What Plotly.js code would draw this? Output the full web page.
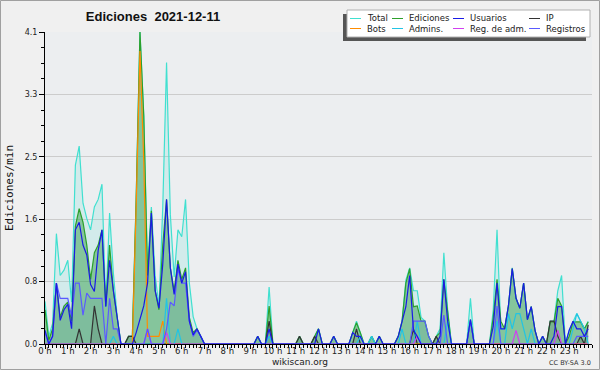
<!DOCTYPE html>
<html><head><meta charset="utf-8">
<script src="https://cdn.plot.ly/plotly-3.0.1.min.js"></script>
<style>html,body{margin:0;padding:0;background:#f0f0f0}#chart{width:600px;height:370px}</style>
</head><body><div id="chart"></div>
<script>
// 10-minute bins over 24 h
const hourLabels = ['0 h','1 h','2 h','3 h','4 h','5 h','6 h','7 h','8 h','9 h','10 h','11 h','12 h','13 h','14 h','15 h','16 h','17 h','18 h','19 h','20 h','21 h','22 h','23 h'];
const yTickVals = [0, 0.82, 1.64, 2.46, 3.28, 4.1];
const yTickText = ['0.0','0.8','1.6','2.5','3.3','4.1'];
const seriesNames = ['Total','Ediciones','Usuarios','IP','Bots','Admins.','Reg. de adm.','Registros'];

const total = [
0.56,0.10,0.27,1.45,0.90,0.97,1.10,0.55,2.35,2.60,1.85,1.65,
1.50,1.80,1.90,2.10,0.49,1.72,0.93,0.36,0,0,0.10,0.10,
1.90,4.10,3.00,1.00,1.80,0.90,0.50,1.80,3.70,1.70,0.88,1.50,
1.41,1.90,0.80,0.36,0.20,0.10,0,0,0,0,0,0,
0,0,0,0,0,0,0,0,0.10,0,0,0.75,
0,0,0,0,0,0,0,0.10,0,0,0,0.10,
0.20,0,0,0,0.10,0,0,0,0,0.15,0.30,0.15,
0,0,0.10,0,0.10,0,0,0,0,0.10,0.30,0.84,
1.00,0.70,0.70,0.35,0.30,0.10,0,0.10,0.20,1.20,0.45,0,
0,0,0,0,0.60,0,0,0,0,0,0.45,1.50,
0.20,0.20,0.50,1.00,0.60,0.47,0.80,0.32,0.49,0.18,0,0.10,
0,0.30,0.30,0.70,0.90,0,0.18,0.30,0.40,0.30,0.20,0.30];

const ediciones = [
0.45,0.05,0.20,0.80,0.35,0.50,0.55,0.30,1.55,1.78,1.60,1.30,
0.85,1.20,1.30,1.50,0.50,1.30,0.70,0.35,0,0,0.10,0.10,
1.90,4.10,3.00,0.90,1.75,0.70,0.45,1.30,1.90,1.00,0.70,1.10,
0.85,1.00,0.35,0.15,0.20,0.10,0,0,0,0,0,0,
0,0,0,0,0,0,0,0,0.10,0,0,0.50,
0,0,0,0,0,0,0,0.10,0,0,0,0.10,
0.20,0,0,0,0.10,0,0,0,0,0.15,0.28,0.15,
0,0,0.10,0,0.10,0,0,0,0,0.10,0.30,0.80,
0.99,0.49,0.50,0.30,0.30,0.10,0,0.10,0.15,0.85,0.38,0,
0,0,0,0,0.32,0,0,0,0,0,0.35,0.85,
0.30,0.20,0.50,0.99,0.60,0.47,0.80,0.32,0.49,0.18,0,0.10,
0,0.29,0.29,0.60,0.50,0,0.10,0.29,0.29,0.29,0.20,0.29];

const usuarios = [
0.18,0,0.10,0.80,0.31,0.45,0.52,0.20,1.50,1.60,1.30,1.17,
0.78,0.69,1.23,1.50,0.49,1.10,0.70,0.32,0,0,0,0,
0.15,0.32,0.50,0.80,1.72,0.70,0.47,1.05,1.90,1.00,0.65,1.05,
0.80,0.95,0.30,0.12,0.20,0.10,0,0,0,0,0,0,
0,0,0,0,0,0,0,0,0.10,0,0,0.20,
0,0,0,0,0,0,0,0,0,0,0,0,
0.20,0,0,0,0.10,0,0,0,0,0.15,0.10,0.10,
0,0,0,0,0.10,0,0,0,0,0.10,0.30,0.49,
0.90,0.18,0.10,0,0,0,0,0,0.10,0.85,0.30,0,
0,0,0,0,0.32,0,0,0,0,0,0.23,0.80,
0.20,0.20,0.50,0.99,0.60,0.47,0.80,0.32,0.49,0.18,0,0.10,
0,0,0.10,0.49,0.49,0,0.18,0.30,0.20,0.20,0.10,0.20];

const ip = [
0,0,0,0,0,0,0,0,0,0.20,0,0,
0,0.50,0.20,0,0,0,0,0,0,0,0.10,0.10,
0,0,0,0,0,0,0,0,0,0,0,0,
0,0,0,0,0,0,0,0,0,0,0,0,
0,0,0,0,0,0,0,0,0,0,0,0.30,
0,0,0,0,0,0,0,0.10,0,0,0,0.10,
0,0,0,0,0,0,0,0,0,0,0.20,0,
0,0,0,0,0,0,0,0,0,0,0,0,
0,0.20,0,0,0,0,0,0.10,0,0,0,0,
0,0,0,0,0,0,0,0,0,0,0,0,
0,0,0,0,0,0,0,0,0,0,0,0,
0,0.30,0.30,0.10,0,0,0,0,0,0.10,0,0.25];

const bots = [
0,0,0,0,0,0,0,0,0,0,0,0,
0,0,0,0,0,0,0,0,0,0,0,0,
1.80,3.85,2.40,0.10,0.10,0.10,0.10,0.30,0,0,0,0,
0,0,0,0,0,0,0,0,0,0,0,0,
0,0,0,0,0,0,0,0,0,0,0,0,
0,0,0,0,0,0,0,0,0,0,0,0,
0,0,0,0,0,0,0,0,0,0,0,0,
0,0,0,0,0,0,0,0,0,0,0,0,
0,0,0,0,0,0,0,0,0,0,0,0,
0,0,0,0,0,0,0,0,0,0,0,0,
0,0,0,0,0,0,0,0,0,0,0,0,
0,0,0,0,0,0,0,0,0,0,0,0];

const admins = [
0,0,0,0,0,0,0,0,0,0,0,0,
0,0,0,0,0,0,0.10,0,0,0,0,0,
0,0,0,0,0,0,0,0,0.60,0,0,0.20,
0,0,0,0,0,0,0,0,0,0,0,0,
0,0,0,0,0,0,0,0,0,0,0,0.10,
0,0,0,0,0,0,0,0,0,0,0,0,
0,0,0,0,0,0,0,0,0,0,0,0.10,
0,0,0.10,0,0,0,0,0,0,0,0.20,0,
0,0,0.30,0,0,0,0,0,0,0,0.30,0,
0,0,0,0,0,0,0,0,0,0,0,0.30,
0,0,0.40,0.20,0.40,0.40,0.20,0,0.20,0,0,0,
0,0,0,0,0,0,0,0.20,0.40,0.30,0.20,0];

const regAdm = [
0,0,0,0,0,0,0,0,0,0,0,0,
0,0,0,0,0,0,0,0,0,0,0,0,
0,0,0,0.20,0,0,0,0,0.15,0,0,0,
0,0,0,0,0,0,0,0,0,0,0,0,
0,0,0,0,0,0,0,0,0,0,0,0,
0,0,0,0,0,0,0,0,0,0,0,0,
0,0,0,0,0,0,0,0,0,0,0,0,
0,0,0,0,0,0,0,0,0,0,0,0,
0,0,0.10,0,0,0,0,0,0,0,0,0,
0,0,0,0,0,0,0,0,0,0,0,0,
0,0,0,0,0.18,0,0,0,0,0,0,0,
0,0,0,0.18,0,0,0,0,0,0,0,0];

const registros = [
0.15,0,0.10,0.80,0.60,0.60,0.60,0.36,0.80,0.80,0.38,0.67,
0.60,0.60,0.60,0.60,0,0.60,0.20,0.20,0,0,0,0,
0,0,0,0.20,0,0,0,0,0.20,0.55,0.50,0.99,
0.80,0.80,0.30,0.10,0.18,0.10,0,0,0,0,0,0,
0,0,0,0,0,0,0,0,0,0,0,0,
0,0,0,0,0,0,0,0,0,0,0,0,
0,0,0,0,0,0,0,0,0,0,0,0,
0,0,0,0,0,0,0,0,0,0,0,0,
0,0.30,0.30,0.30,0.30,0.10,0,0,0,0.38,0,0,
0,0,0,0,0.30,0,0,0,0,0,0,0.50,
0,0,0,0,0,0,0,0,0,0,0,0,
0,0,0,0,0,0,0,0,0.10,0.10,0.10,0.10];

const times = total.map((_, i) => i / 6);

const lineColors = ['#40e0d0','#2ca02c','#1a1ae6','#333333','#ff8c00','#22c4e4','#d040f0','#5a5aff'];
const seriesData = [total, ediciones, usuarios, ip, bots, admins, regAdm, registros];

const traces = [];
// fills first
const fills = [[0,'rgba(64,224,208,0.15)'],[7,'rgba(90,90,255,0.10)'],[1,'rgba(40,150,60,0.45)'],[3,'rgba(50,50,50,0.12)']];
fills.forEach(([k,c]) => traces.push({x: times, y: seriesData[k], type:'scatter', mode:'lines', fill:'tozeroy', fillcolor:c, line:{width:0, color:lineColors[k]}, hoverinfo:'skip', showlegend:false}));
// lines
[0,1,3,4,5,6,7,2].forEach(k => traces.push({x: times, y: seriesData[k], type:'scatter', mode:'lines', name: seriesNames[k], line:{width:1.2, color:lineColors[k]}, showlegend:false}));

// pixel helpers for legend/decoration (plot area 45..592 x 32..344)
const L = 45, R = 592, T = 32, B = 344;
const px = v => (v - L) / (R - L);
const py = v => (B - v) / (B - T);

const shapes = [
  {type:'rect', xref:'paper', yref:'paper', x0:px(0.5), x1:px(599.5), y0:py(0.5), y1:py(369.5), line:{color:'#a0a0a0', width:1}, layer:'below'},
  {type:'rect', xref:'paper', yref:'paper', x0:px(343), x1:px(586), y0:py(14), y1:py(41), fillcolor:'#555555', line:{width:0}},
  {type:'rect', xref:'paper', yref:'paper', x0:px(347), x1:px(590), y0:py(10), y1:py(37), fillcolor:'#ffffff', line:{color:'#b0b0b0', width:1}}
];
const annotations = [];
const colX = [350, 392, 453, 529];
const rowY = [18.5, 28.5];
seriesNames.forEach((name, j) => {
  const c = j % 4, r = Math.floor(j / 4);
  shapes.push({type:'line', xref:'paper', yref:'paper', x0:px(colX[c]), x1:px(colX[c]+11), y0:py(rowY[r]), y1:py(rowY[r]), line:{color:lineColors[j], width:1}});
  annotations.push({xref:'paper', yref:'paper', x:px(colX[c]+15), y:py(rowY[r]), xanchor:'left', yanchor:'middle', text:name, showarrow:false, font:{family:'DejaVu Sans', size:8.5, color:'#222'}});
});
annotations.push({xref:'paper', yref:'paper', x:px(300), y:py(362), xanchor:'center', yanchor:'middle', text:'wikiscan.org', showarrow:false, font:{family:'DejaVu Sans', size:9, color:'#222'}});
annotations.push({xref:'paper', yref:'paper', x:px(593), y:py(362.5), xanchor:'right', yanchor:'middle', text:'CC BY-SA 3.0', showarrow:false, font:{family:'DejaVu Sans', size:6.5, color:'#333'}});

const minorY = [];
for (let k = 0; k <= 20; k++) minorY.push(+(k * 0.205).toFixed(3));

const layout = {
  width: 600, height: 370,
  margin: {l: L, r: 600 - R, t: T, b: 370 - B},
  paper_bgcolor: '#f0f0f0', plot_bgcolor: '#eceef0',
  showlegend: false,
  title: {text: 'Ediciones\u00a0\u00a02021-12-11', x: 153/600, xanchor: 'center', y: 1 - 16/370, yanchor: 'middle', xref:'container', yref:'container',
          font: {family: 'Liberation Sans', size: 13, weight: 'bold', color: '#111'}},
  xaxis: {range: [0, 24], tickmode: 'array', tickvals: hourLabels.map((_, h) => h), ticktext: hourLabels,
          ticks: 'outside', ticklen: 4, tickcolor: '#000', showline: true, linecolor: '#000', linewidth: 1,
          showgrid: false, zeroline: false, tickfont: {family: 'DejaVu Sans', size: 8.5, color: '#222'},
          ticklabelstandoff: -5,
          minor: {dtick: 1/6, tick0: 0, ticks: 'outside', ticklen: 3, tickcolor: '#000', showgrid: false}},
  yaxis: {range: [0, 4.1], tickmode: 'array', tickvals: yTickVals, ticktext: yTickText,
          ticks: 'outside', ticklen: 5, tickcolor: '#000', showline: true, linecolor: '#000', linewidth: 1,
          showgrid: true, gridcolor: '#cccccc', gridwidth: 1, zeroline: false,
          tickfont: {family: 'DejaVu Sans', size: 8, color: '#222'},
          minor: {tickmode: 'array', tickvals: minorY, ticks: 'outside', ticklen: 3, tickcolor: '#000', showgrid: false},
          title: {text: 'Ediciones/min', standoff: 8, font: {family: 'DejaVu Sans Mono', size: 11, color: '#111'}}},
  shapes: shapes, annotations: annotations
};

Plotly.newPlot('chart', traces, layout, {displayModeBar: false, staticPlot: true});
</script></body></html>
